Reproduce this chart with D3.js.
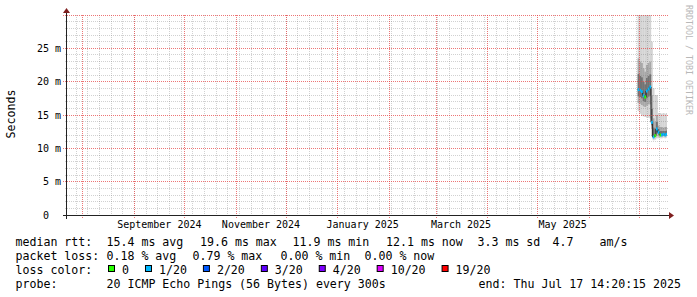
<!DOCTYPE html>
<html>
<head>
<meta charset="utf-8">
<script src="https://cdn.jsdelivr.net/npm/d3@7"></script>
<style>
  html, body { margin: 0; padding: 0; background: #fff; }
  svg text { font-family: "DejaVu Sans Mono", monospace; white-space: pre; }
</style>
</head>
<body>
<svg id="chart" width="697" height="297"></svg>
<script>
// smokeping style graph, last 360 days, one consolidated sample per day

const endTime = new Date("2025-07-17T14:20:15Z");
const startTime = new Date(endTime.getTime() - 360 * 864e5);

const sampleDates = ["2025-06-30", "2025-07-01", "2025-07-02", "2025-07-03", "2025-07-04", "2025-07-05",
  "2025-07-06", "2025-07-07", "2025-07-08", "2025-07-09", "2025-07-10", "2025-07-11",
  "2025-07-12", "2025-07-13", "2025-07-14", "2025-07-15", "2025-07-16", "2025-07-17"];
// all in ms
const medianMs  = [18.8, 18.7, 18.5, 17.9, 17.7, 18.6, 18.9, 19.2, 13.9, 11.7, 11.9, 12.9, 12.4, 12.0, 12.0, 12.1, 12.0, 12.1];
const lossPings = [1, 1, 1, 1, 0, 1, 1, 1, 1, 1, 0, 1, 1, 0, 1, 1, 1, 1];
const pingMinMs = [15.6, 15.2, 14.9, 14.8, 14.7, 14.6, 14.6, 14.5, 11.8, 11.2, 11.3, 11.5, 11.5, 11.5, 11.5, 11.6, 11.5, 11.6];
const pingLoMs  = [16.8, 16.7, 16.5, 16.3, 16.2, 16.4, 16.6, 16.6, 13.0, 11.6, 11.7, 12.2, 11.8, 11.8, 11.8, 11.9, 11.8, 11.9];
const pingHiMs  = [23.5, 23.0, 22.8, 22.0, 21.5, 22.5, 22.8, 23.0, 18.0, 14.5, 14.0, 15.0, 13.4, 13.2, 13.2, 13.1, 13.2, 13.2];
const pingMaxMs = [32, 32, 32, 32, 32, 32, 32, 32, 26, 19, 18, 18, 15.3, 15.3, 15.2, 15.3, 15.2, 15.3];

const yTicks = [0, 5, 10, 15, 20, 25];
const xLabelMonths = ["2024-09-01", "2024-11-01", "2025-01-01", "2025-03-01", "2025-05-01"];

const rttLabel = "median rtt:";
const rttStats = ["15.4 ms avg", "19.6 ms max", "11.9 ms min", "12.1 ms now", "3.3 ms sd", "4.7", "am/s"];
const lossLabel = "packet loss:";
const lossStats = ["0.18 % avg", "0.79 % max", "0.00 % min", "0.00 % now"];
const lossColorLabel = "loss color:";
const lossLevels = ["0", "1/20", "2/20", "3/20", "4/20", "10/20", "19/20"];
const lossColors = ["#26ff00", "#00b8ff", "#0059ff", "#5e00ff", "#7e00ff", "#dd00ff", "#ff0000"];
const probeLabel = "probe:";
const probeText = "20 ICMP Echo Pings (56 Bytes) every 300s";
const endText = "end: Thu Jul 17 14:20:15 2025";

const svg = d3.select("#chart");
const X0 = 67, X1 = 667, Y0 = 215, Y1 = 15;

const x = d3.scaleUtc().domain([startTime, endTime]).range([X0, X1]);
const y = d3.scaleLinear().domain([0, 30]).range([Y0, Y1]);
const px = v => Math.floor(v) + 0.5;

svg.append("rect").attr("width", 697).attr("height", 297).attr("fill", "#fff");

const samples = sampleDates.map((d, i) => {
  const t = new Date(d + "T00:00:00Z");
  return {
    t0: t, t1: d3.utcDay.offset(t, 1),
    med: medianMs[i], loss: lossPings[i],
    min: pingMinMs[i], lo: pingLoMs[i], hi: pingHiMs[i], max: pingMaxMs[i]
  };
});

svg.append("clipPath").attr("id", "plot")
  .append("rect").attr("x", X0).attr("y", Y1).attr("width", X1 - X0).attr("height", Y0 - Y1);

const data = svg.append("g").attr("clip-path", "url(#plot)");

// smoke
function band(lo, hi, color) {
  data.append("g").selectAll("rect")
    .data(samples)
    .enter()
    .append("rect")
      .attr("x", d => x(d.t0))
      .attr("width", d => x(d.t1) - x(d.t0) + 0.15)
      .attr("y", d => y(hi(d)))
      .attr("height", d => y(lo(d)) - y(hi(d)))
      .attr("fill", color);
}
band(d => d.min, d => d.max, "#d4d4d4");
band(d => d.lo, d => d.hi, "#a8a8a8");
band(d => (d.lo + d.med) / 2, d => (d.hi + d.med) / 2, "#737373");

// median line
const stepPts = samples.map(d => [x(d.t0), y(d.med)]);
const last = samples[samples.length - 1];
stepPts.push([x(last.t1), y(last.med)]);
data.append("path")
  .attr("d", d3.line().curve(d3.curveStepAfter)(stepPts))
  .attr("fill", "none")
  .attr("stroke", "#1c1c1c")
  .attr("stroke-width", 1);

data.append("g").selectAll("rect")
  .data(samples)
  .enter()
  .append("rect")
    .attr("x", d => x(d.t0))
    .attr("width", d => Math.max(1.8, x(d.t1) - x(d.t0)))
    .attr("y", d => y(d.med) - 1.5)
    .attr("height", 3)
    .attr("fill", d => lossColors[d.loss]);

// grid
const grid = svg.append("g").attr("fill", "none").attr("stroke-dasharray", "1,1");
const minorCol = "rgba(128,128,128,0.36)";
const majorCol = "rgba(230,60,60,0.7)";

y.ticks(30).filter(v => v > 0 && v % 5 !== 0).forEach(v => {
  grid.append("line").attr("x1", X0 - 2).attr("x2", X1 + 1)
    .attr("y1", px(y(v))).attr("y2", px(y(v))).attr("stroke", minorCol);
});
d3.utcSunday.range(startTime, endTime).forEach(t => {
  grid.append("line").attr("x1", px(x(t))).attr("x2", px(x(t)))
    .attr("y1", Y1).attr("y2", Y0 + 2).attr("stroke", minorCol);
});
yTicks.filter(v => v > 0).concat([30]).forEach(v => {
  grid.append("line").attr("x1", X0 - 4).attr("x2", X1 + 1)
    .attr("y1", px(y(v))).attr("y2", px(y(v))).attr("stroke", majorCol);
});
d3.utcMonth.range(startTime, endTime).forEach(t => {
  grid.append("line").attr("x1", px(x(t))).attr("x2", px(x(t)))
    .attr("y1", Y1).attr("y2", Y0 + 3).attr("stroke", majorCol);
});

// axes
svg.append("line").attr("x1", X0 - 4).attr("x2", X1 + 3).attr("y1", Y0 + 0.5).attr("y2", Y0 + 0.5)
  .attr("stroke", "#222").attr("stroke-width", 1);
svg.append("line").attr("x1", X0 - 0.5).attr("x2", X0 - 0.5).attr("y1", Y0 + 4).attr("y2", Y1 - 3)
  .attr("stroke", "#222").attr("stroke-width", 1);
svg.append("path").attr("d", `M${X1 + 2},${Y0 - 3}L${X1 + 2},${Y0 + 4}L${X1 + 7},${Y0 + 0.5}Z`).attr("fill", "#7f1f1f");
svg.append("path").attr("d", `M${X0 - 4},${Y1 - 2}L${X0 + 3},${Y1 - 2}L${X0 - 0.5},${Y1 - 7}Z`).attr("fill", "#7f1f1f");

// y tick labels
svg.append("g").selectAll("text")
  .data(yTicks)
  .enter()
  .append("text")
    .attr("x", 61)
    .attr("y", d => px(y(d)) + 3.4)
    .attr("text-anchor", "end")
    .attr("font-size", 10)
    .attr("fill", "#000")
    .text(d => d === 0 ? "0  " : `${d} m`);

// x labels, centred half a month after the tick
svg.append("g").selectAll("text")
  .data(xLabelMonths)
  .enter()
  .append("text")
    .attr("x", d => x(d3.utcDay.offset(new Date(d + "T00:00:00Z"), 15)))
    .attr("y", 227.5)
    .attr("text-anchor", "middle")
    .attr("font-size", 10)
    .attr("fill", "#000")
    .text(d => d3.utcFormat("%B %Y")(new Date(d + "T00:00:00Z")));

svg.append("text")
  .attr("transform", "translate(15,114) rotate(-90)")
  .attr("text-anchor", "middle")
  .attr("font-size", 11.6)
  .text("Seconds");

svg.append("text")
  .attr("transform", "translate(686,60) rotate(90)")
  .attr("text-anchor", "middle")
  .attr("font-size", 8.3)
  .attr("fill", "#b8b8b8")
  .text("RRDTOOL / TOBI OETIKER");

// legend
const legend = svg.append("g").attr("font-size", 11.6).attr("fill", "#000");
function put(txt, lx, ly, anchor) {
  return legend.append("text").attr("x", lx).attr("y", ly)
    .attr("text-anchor", anchor || "start").text(txt);
}
const rows = [245.5, 259.5, 273.5, 287.5];

put(rttLabel, 15.5, rows[0]);
[106.5, 200, 292.5, 386, 477.5, 552.5, 599.5].forEach((lx, i) => put(rttStats[i], lx, rows[0]));

put(lossLabel, 15.5, rows[1]);
[106.5, 192.5, 280.5, 364.5].forEach((lx, i) => put(lossStats[i], lx, rows[1]));

put(lossColorLabel, 15.5, rows[2]);
let cursor = 108;
lossLevels.forEach((lvl, i) => {
  legend.append("rect")
    .attr("x", cursor + 0.5).attr("y", rows[2] - 8)
    .attr("width", 6).attr("height", 6)
    .attr("fill", lossColors[i]).attr("stroke", "#000").attr("stroke-width", 1);
  const t = put(lvl, cursor + 14, rows[2]);
  cursor = cursor + 14 + t.node().getComputedTextLength() + 16;
});

put(probeLabel, 15.5, rows[3]);
put(probeText, 106.5, rows[3]);
put(endText, 681, rows[3], "end");
</script>
</body>
</html>
